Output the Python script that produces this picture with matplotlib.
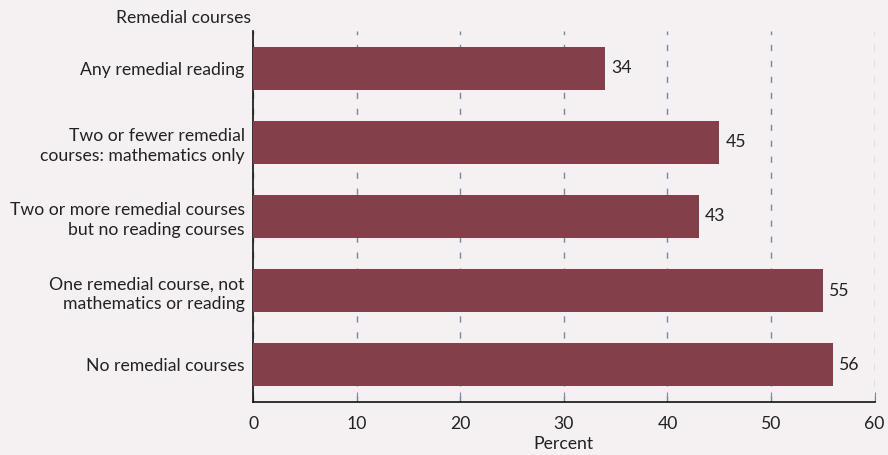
import numpy as np
import matplotlib.pyplot as plt

plt.rcParams['font.family'] = ['Lato', 'DejaVu Sans']

# Data
categories = [
    "Any remedial reading",
    "Two or fewer remedial\ncourses: mathematics only",
    "Two or more remedial courses\nbut no reading courses",
    "One remedial course, not\nmathematics or reading",
    "No remedial courses",
]
values = [34, 45, 43, 55, 56]
xticks = [0, 10, 20, 30, 40, 50, 60]

bg = "#f5f1f3"
bar_color = "#833f4a"
grid_color = "#7489a2"
text_color = "#222222"
fs = 12.7

fig = plt.figure(figsize=(8.88, 4.55), dpi=100, facecolor=bg)
ax = fig.add_axes([0.285, 0.1165, 0.7, 0.8155], facecolor=bg)

y = np.arange(len(categories))
ax.barh(y, values, height=0.58, color=bar_color, zorder=3)

for yi, v in zip(y, values):
    ax.text(v + 0.6, yi, str(v), va='center', ha='left', fontsize=fs, color=text_color)

ax.set_xlim(0, 60)
ax.set_ylim(4.5, -0.5)
ax.set_yticks(y)
ax.set_yticklabels(categories, fontsize=fs, color=text_color, linespacing=1.3)
ax.set_xticks(xticks)
ax.set_xticklabels([str(t) for t in xticks], fontsize=fs, color=text_color)

ax.tick_params(axis='y', length=0, pad=6)
ax.tick_params(axis='x', direction='in', length=7, color=grid_color, pad=10)

ax.grid(axis='x', linestyle=(0, (4.5, 7)), color=grid_color, linewidth=1, zorder=0)
ax.grid(axis='y', visible=False)

for s in ['top', 'right']:
    ax.spines[s].set_visible(False)
for s in ['left', 'bottom']:
    ax.spines[s].set_color('#111111')
    ax.spines[s].set_linewidth(1.2)

ax.set_xlabel("Percent", fontsize=fs, color=text_color, labelpad=3)
fig.text(251 / 888, 1 - 18 / 455, "Remedial courses", ha='right', va='center',
         fontsize=fs, color=text_color)

fig.savefig("out.png", dpi=100, facecolor=bg)
